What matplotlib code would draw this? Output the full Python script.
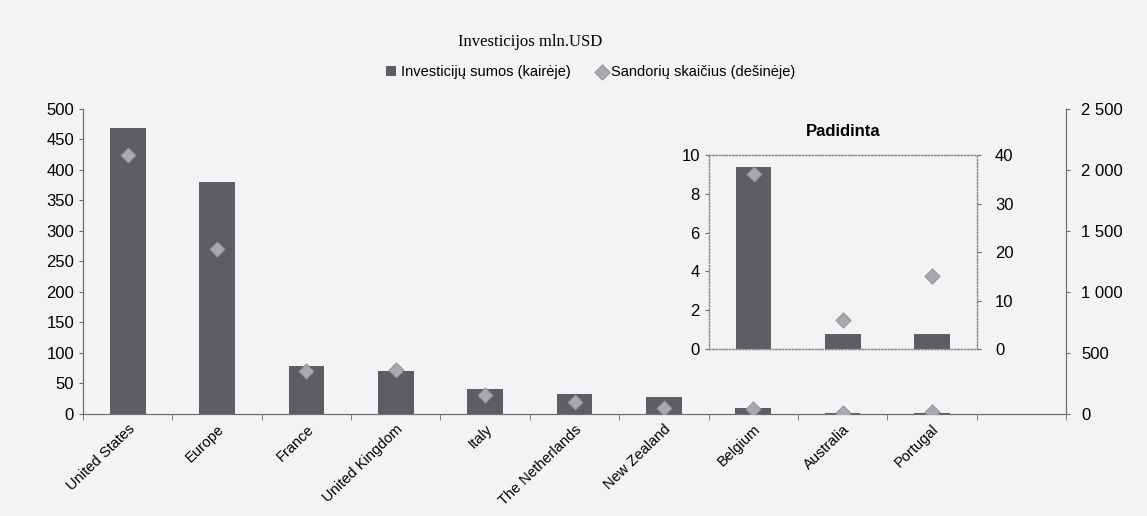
import numpy as np
import matplotlib
matplotlib.use('Agg')
import matplotlib.pyplot as plt
from matplotlib.ticker import FixedLocator, FuncFormatter

countries = ['United States', 'Europe', 'France', 'United Kingdom', 'Italy',
             'The Netherlands', 'New Zealand', 'Belgium', 'Australia', 'Portugal']
invest = [468, 380, 79, 70, 41, 33, 28, 9.4, 0.8, 0.8]   # mln. USD, left axis
deals = [2120, 1355, 355, 360, 156, 96, 49, 36, 6, 15]   # deal count, right axis
zoom_n = 3   # last three countries shown enlarged

plt.rcParams['font.family'] = ['Liberation Sans', 'DejaVu Sans']
bg = '#f3f3f5'
bar_c = '#5e5d62'
dia_c = '#a9a9ad'
dia_e = '#8a8a8e'
spine_c = '#6e6e72'

fig = plt.figure(figsize=(11.47, 5.16), dpi=100, facecolor=bg)
ax = fig.add_axes([0.0724, 0.198, 0.857, 0.591])
ax.set_facecolor('none')
x = np.arange(len(countries))

bars = ax.bar(x, invest, width=0.4, color=bar_c, zorder=2, label='Investicijų sumos (kairėje)')
ax.set_xlim(-0.5, len(countries) + 0.5)
ax.set_ylim(0, 500)
ax.set_yticks(range(0, 501, 50))
ax.set_xticks(x)
ax.set_xticklabels(countries, rotation=44, ha='right', rotation_mode='anchor', fontsize=10.5)
ax.xaxis.set_minor_locator(FixedLocator(np.arange(-0.5, len(countries) + 0.6, 1)))
ax.tick_params(axis='x', which='major', length=0, pad=6)
ax.tick_params(axis='x', which='minor', length=4, color=spine_c)
ax.tick_params(axis='y', length=3, color=spine_c, labelsize=12)
ax.spines['top'].set_visible(False)
for s in ('left', 'bottom', 'right'):
    ax.spines[s].set_color(spine_c)

ax2 = ax.twinx()
sc = ax2.scatter(x, deals, marker='D', s=60, color=dia_c, edgecolors=dia_e, linewidths=0.6,
                 zorder=3, label='Sandorių skaičius (dešinėje)')
ax2.set_ylim(0, 2500)
ax2.set_yticks(range(0, 2501, 500))
ax2.yaxis.set_major_formatter(FuncFormatter(lambda v, p: f'{v:,.0f}'.replace(',', ' ')))
ax2.tick_params(axis='y', length=3, color=spine_c, labelsize=12, pad=8)
ax2.spines['top'].set_visible(False)
for s in ('left', 'bottom', 'right'):
    ax2.spines[s].set_color(spine_c)

# enlarged inset for the smallest values
ins = fig.add_axes([0.618, 0.3236, 0.2337, 0.376])
ins.set_facecolor('none')
xi = np.arange(zoom_n)
ins.bar(xi, invest[-zoom_n:], width=0.4, color=bar_c, zorder=2)
ins.set_xlim(-0.5, zoom_n - 0.5)
ins.set_ylim(0, 10)
ins.set_yticks(range(0, 11, 2))
ins.set_xticks([])
ins.tick_params(axis='y', length=3, color=spine_c, labelsize=12)
ins.set_title('Padidinta', fontweight='bold', fontsize=12, pad=14)
ins2 = ins.twinx()
ins2.scatter(xi, deals[-zoom_n:], marker='D', s=60, color=dia_c, edgecolors=dia_e,
             linewidths=0.6, zorder=3)
ins2.set_ylim(0, 40)
ins2.set_yticks(range(0, 41, 10))
ins2.tick_params(axis='y', length=3, color=spine_c, labelsize=12, pad=10)
for a in (ins, ins2):
    for s in a.spines.values():
        s.set_color('#8a8a8e')
        s.set_linestyle(':')
        s.set_linewidth(0.9)

fig.text(0.462, 0.919, 'Investicijos mln.USD', ha='center', va='center',
         family='Liberation Serif', fontsize=12)
fig.legend(handles=[bars, sc], loc='center', bbox_to_anchor=(0.515, 0.86), ncol=2,
           frameon=False, fontsize=10.5, handlelength=0.7, handleheight=0.7,
           handletextpad=0.3, columnspacing=1.8)

fig.savefig('out.png', dpi=100, facecolor=bg)
